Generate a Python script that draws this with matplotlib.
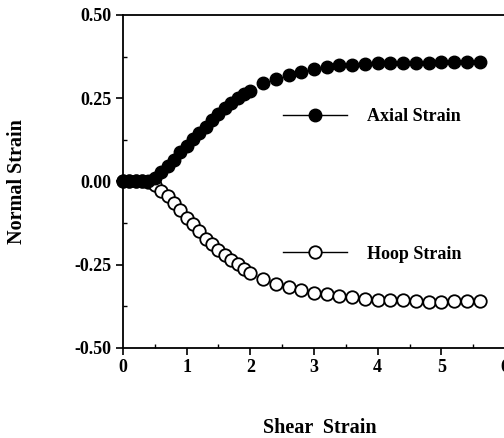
import matplotlib
matplotlib.use("Agg")
import matplotlib.pyplot as plt
from matplotlib.lines import Line2D
from matplotlib.ticker import MultipleLocator, FormatStrFormatter

plt.rcParams['font.family'] = ['Liberation Serif', 'DejaVu Serif']
plt.rcParams['font.weight'] = 'bold'
plt.rcParams['axes.unicode_minus'] = False

# shear strain values (dense up to 2, then every 0.2)
shear = [0.0, 0.1, 0.2, 0.3, 0.4, 0.5, 0.6, 0.7, 0.8, 0.9, 1.0,
         1.1, 1.2, 1.3, 1.4, 1.5, 1.6, 1.7, 1.8, 1.9, 2.0,
         2.2, 2.4, 2.6, 2.8, 3.0, 3.2, 3.4, 3.6, 3.8, 4.0,
         4.2, 4.4, 4.6, 4.8, 5.0, 5.2, 5.4, 5.6]

axial = [0.0, 0.0, 0.0, 0.0, 0.002, 0.011, 0.028, 0.045, 0.065, 0.088, 0.108,
         0.128, 0.145, 0.165, 0.185, 0.203, 0.220, 0.235, 0.250, 0.263, 0.273,
         0.295, 0.308, 0.320, 0.328, 0.337, 0.343, 0.350, 0.351, 0.353, 0.355,
         0.355, 0.355, 0.356, 0.357, 0.358, 0.358, 0.358, 0.358]

hoop = [0.0, 0.0, 0.0, 0.0, -0.002, -0.010, -0.029, -0.045, -0.065, -0.087, -0.109,
        -0.127, -0.149, -0.172, -0.189, -0.207, -0.220, -0.235, -0.249, -0.262, -0.274,
        -0.294, -0.307, -0.317, -0.327, -0.335, -0.339, -0.345, -0.347, -0.352, -0.355,
        -0.355, -0.357, -0.359, -0.361, -0.361, -0.360, -0.360, -0.360]

fig = plt.figure(figsize=(5.04, 4.38), dpi=100)
ax = fig.add_axes([0.244, 0.2055, 0.758, 0.7603])

ms = 9
ax.plot(shear, hoop, linestyle='none', marker='o', markersize=ms,
        markerfacecolor='white', markeredgecolor='black', markeredgewidth=1.3,
        clip_on=False, zorder=3)
ax.plot(shear, axial, linestyle='none', marker='o', markersize=ms,
        markerfacecolor='black', markeredgecolor='black',
        clip_on=False, zorder=4)

ax.set_xlim(0, 6)
ax.set_ylim(-0.5, 0.5)
ax.xaxis.set_major_locator(MultipleLocator(1))
ax.xaxis.set_minor_locator(MultipleLocator(0.5))
ax.yaxis.set_major_locator(MultipleLocator(0.25))
ax.yaxis.set_minor_locator(MultipleLocator(0.125))
ax.yaxis.set_major_formatter(FormatStrFormatter('%.2f'))

ax.spines['right'].set_visible(False)
for s in ['left', 'bottom', 'top']:
    ax.spines[s].set_linewidth(1.3)
ax.tick_params(which='major', direction='out', length=5, width=1.2, labelsize=13, pad=3)
ax.tick_params(which='minor', direction='in', length=3, width=1.0)
ax.tick_params(top=False, right=False, which='both')

ax.set_xlabel('Shear  Strain', fontsize=14.5, fontweight='bold')
ax.set_ylabel('Normal Strain', fontsize=14.5, fontweight='bold')
ax.xaxis.set_label_coords(0.516, -0.21)
ax.yaxis.set_label_coords(-0.251, 0.5)

h_axial = Line2D([], [], color='black', linewidth=1.0, marker='o', markersize=ms,
                 markerfacecolor='black', markeredgecolor='black')
h_hoop = Line2D([], [], color='black', linewidth=1.0, marker='o', markersize=ms,
                markerfacecolor='white', markeredgecolor='black', markeredgewidth=1.3)

leg_kw = dict(frameon=False, loc='center left', borderpad=0, borderaxespad=0,
              handlelength=3.55, handletextpad=1.1, prop={'size': 13, 'weight': 'bold'})
leg1 = ax.legend([h_axial], ['Axial Strain'], bbox_to_anchor=(0.419, 0.694), **leg_kw)
ax.add_artist(leg1)
ax.legend([h_hoop], ['Hoop Strain'], bbox_to_anchor=(0.419, 0.282), **leg_kw)

fig.savefig('out.png', dpi=100)
